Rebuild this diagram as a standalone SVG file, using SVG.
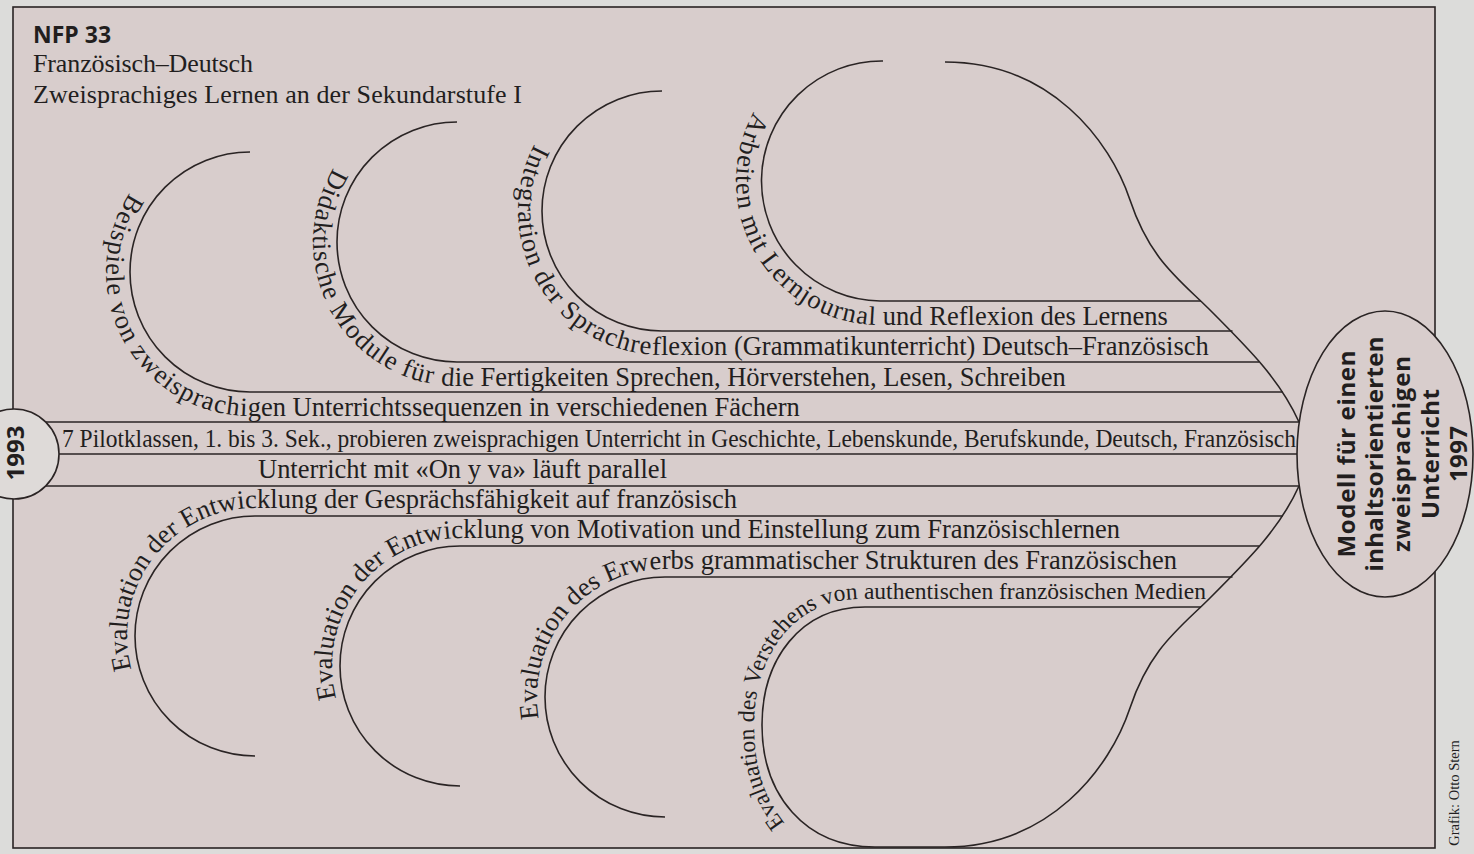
<svg xmlns="http://www.w3.org/2000/svg" width="1474" height="854" viewBox="0 0 1474 854">
<style>
.ln{fill:none;stroke:#2a2424;stroke-width:1.6}
.sf{font-family:"Liberation Serif","Times New Roman",serif;fill:#221e1e;font-size:26.5px}
.sb{font-family:"Open Sans","Noto Sans",sans-serif;font-weight:bold;fill:#221e1e;font-size:24px}
.tp{baseline-shift:-14px}
</style>
<defs>
<path id="pT1" d="M250,142 A130,130 0 0 0 250,402 L1290,402"/>
<path id="pT2" d="M457,112 A130,130 0 0 0 457,372 L1290,372"/>
<path id="pT3" d="M662,81 A130,130 0 0 0 662,341 L1290,341"/>
<path id="pT4" d="M880,51 A130,130 0 0 0 880,311 L1290,311"/>
<path id="pB1" d="M255,764 A128,128 0 0 1 255,508 L1290,508"/>
<path id="pB2" d="M460,794 A128,128 0 0 1 460,538 L1290,538"/>
<path id="pB3" d="M665,825 A128,128 0 0 1 665,569 L1290,569"/>
<path id="pB4" d="M798,838 C765,805 754,770 754,725 C754,655 795,599 860,599 L1290,599"/>
</defs>
<rect x="0" y="0" width="1474" height="854" fill="#dcdcda"/>
<rect x="13" y="7" width="1422" height="841" fill="#d8cdcc" stroke="#2a2424" stroke-width="1.6"/>

<g id="title">
<text class="sb" x="33" y="43" style="font-size:23px">NFP 33</text>
<text class="sf" x="33" y="72" textLength="220" style="font-size:26px">Französisch–Deutsch</text>
<text class="sf" x="33" y="103" textLength="489" style="font-size:26px">Zweisprachiges Lernen an der Sekundarstufe I</text>
</g>

<g id="connectors">
<path class="ln" d="M945,62 C1050,62 1110,140 1130,200 C1150,260 1180,280 1210,310 C1250,350 1280,380 1299,422"/>
<path class="ln" d="M865,607 C800,607 762,660 762,725 C762,795 805,847 875,847 L945,847 C1050,847 1110,768 1130,708 C1150,648 1180,628 1210,598 C1250,558 1280,528 1299,486"/>
<path class="ln" d="M46,422 H1299 M59,454 H1297 M46,486 H1299"/>
</g>

<g id="loop-t1">
<path class="ln" d="M250,152 A120,120 0 0 0 250,392 L1282.7,392"/>
<text class="sf"><textPath class="tp" href="#pT1" startOffset="958" text-anchor="end">Beispiele von zweisprachigen Unterrichtssequenzen in verschiedenen Fächern</textPath></text>
</g>
<g id="loop-t2">
<path class="ln" d="M457,122 A120,120 0 0 0 457,362 L1259,362"/>
<text class="sf"><textPath class="tp" href="#pT2" startOffset="1017" text-anchor="end">Didaktische Module für die Fertigkeiten Sprechen, Hörverstehen, Lesen, Schreiben</textPath></text>
</g>
<g id="loop-t3">
<path class="ln" d="M662,91 A120,120 0 0 0 662,331 L1232.5,331"/>
<text class="sf"><textPath class="tp" href="#pT3" startOffset="955" text-anchor="end">Integration der Sprachreflexion (Grammatikunterricht) Deutsch–Französisch</textPath></text>
</g>
<g id="loop-t4">
<path class="ln" d="M883,61 A120,120 0 0 0 880,301 L1201,301"/>
<text class="sf"><textPath class="tp" href="#pT4" startOffset="696" text-anchor="end">Arbeiten mit Lernjournal und Reflexion des Lernens</textPath></text>
</g>

<g id="band-pilot">
<text class="sf" x="62" y="447" textLength="1234" lengthAdjust="spacingAndGlyphs" style="font-size:26px">7 Pilotklassen, 1. bis 3. Sek., probieren zweisprachigen Unterricht in Geschichte, Lebenskunde, Berufskunde, Deutsch, Französisch</text>
<text class="sf" x="258" y="478" textLength="409">Unterricht mit «On y va» läuft parallel</text>
</g>

<g id="loop-b1">
<path class="ln" d="M255,756 A120,120 0 0 1 255,516 L1282.7,516"/>
<text class="sf"><textPath href="#pB1" startOffset="884" text-anchor="end">Evaluation der Entwicklung der Gesprächsfähigkeit auf französisch</textPath></text>
</g>
<g id="loop-b2">
<path class="ln" d="M460,786 A120,120 0 0 1 460,546 L1259,546"/>
<text class="sf"><textPath href="#pB2" startOffset="1062" text-anchor="end">Evaluation der Entwicklung von Motivation und Einstellung zum Französischlernen</textPath></text>
</g>
<g id="loop-b3">
<path class="ln" d="M665,817 A120,120 0 0 1 665,577 L1232.5,577"/>
<text class="sf"><textPath href="#pB3" startOffset="914" text-anchor="end">Evaluation des Erwerbs grammatischer Strukturen des Französischen</textPath></text>
</g>
<g id="loop-b4">
<path class="ln" d="M865,607 L1201,607"/>
<text class="sf" style="font-size:23.5px"><textPath href="#pB4" startOffset="655" text-anchor="end">Evaluation des Verstehens von authentischen französischen Medien</textPath></text>
</g>

<g id="node-1993">
<circle cx="14" cy="454" r="45" fill="#dedad8" stroke="#2a2424" stroke-width="1.6"/>
<text class="sb" transform="translate(24,453) rotate(-90)" text-anchor="middle">1993</text>
</g>

<g id="node-modell">
<ellipse cx="1385" cy="454" rx="88" ry="143" fill="#d8cdcc" stroke="#2a2424" stroke-width="1.6"/>
<text class="sb" text-anchor="middle" transform="translate(1355,454) rotate(-90)" textLength="207">Modell für einen</text>
<text class="sb" text-anchor="middle" transform="translate(1383,454) rotate(-90)" textLength="235">inhaltsorientierten</text>
<text class="sb" text-anchor="middle" transform="translate(1410,454) rotate(-90)" textLength="196">zweisprachigen</text>
<text class="sb" text-anchor="middle" transform="translate(1439,454) rotate(-90)" textLength="130">Unterricht</text>
<text class="sb" text-anchor="middle" transform="translate(1467,454) rotate(-90)" textLength="56">1997</text>
</g>

<text class="sf" text-anchor="middle" transform="translate(1459,793) rotate(-90)" style="font-size:14.5px">Grafik: Otto Stern</text>
</svg>
